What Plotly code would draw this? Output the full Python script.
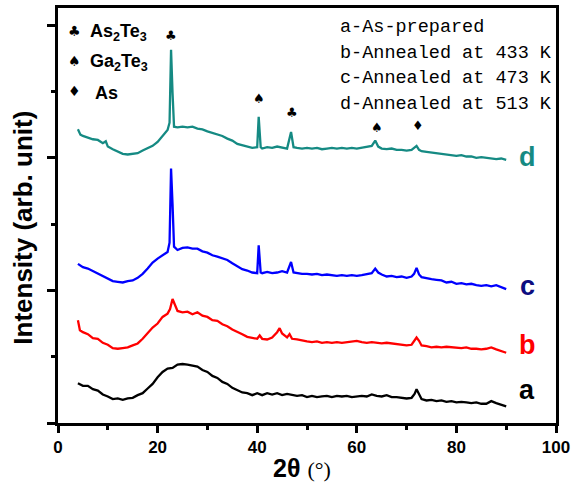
import plotly.graph_objects as go

# ---------------- data ----------------
x_a = [4,5,6,7,8,9,10,11,12,13,14,15,16,17,18,19,20,21,22,23,24,25,26,27,28,29,30,31,32,33,34,35,36,37,38,39,40,41,42,43,44,45,46,47,48,49,50,51,52,53,54,55,56,57,58,59,60,61,62,63,64,65,66,67,68,69,70,71,71.6,72,72.5,73,74,75,76,77,78,79,80,81,82,83,84,85,86,87,88,89,90]
y_a = [0.60,0.56,0.56,0.51,0.49,0.43,0.40,0.36,0.37,0.35,0.37,0.38,0.42,0.45,0.52,0.59,0.69,0.77,0.82,0.83,0.88,0.89,0.88,0.86,0.85,0.80,0.77,0.71,0.68,0.62,0.59,0.53,0.50,0.46,0.45,0.42,0.45,0.42,0.45,0.43,0.45,0.42,0.44,0.42,0.41,0.42,0.39,0.41,0.39,0.40,0.41,0.39,0.41,0.40,0.41,0.39,0.40,0.41,0.40,0.43,0.41,0.40,0.42,0.39,0.39,0.38,0.37,0.38,0.44,0.51,0.43,0.36,0.34,0.35,0.33,0.34,0.32,0.33,0.31,0.32,0.31,0.30,0.31,0.29,0.29,0.33,0.30,0.28,0.25]

x_b = [4,4.4,5,6,7,8,9,10,11,12,13,14,15,16,17,18,19,20,21,22,22.5,23,23.5,24,25,26,27,28,29,30,31,32,33,34,35,36,37,38,39,40,40.5,41,42,43,44,44.5,45,46,46.5,47,48,49,50,51,52,53,54,55,56,57,58,59,60,61,62,63,64,65,66,67,68,69,70,71,71.5,72,72.5,73,74,75,76,77,78,79,80,81,82,83,84,85,86,87,88,89,90]
y_b = [1.55,1.40,1.37,1.34,1.28,1.27,1.21,1.18,1.13,1.12,1.13,1.14,1.17,1.20,1.27,1.35,1.44,1.50,1.60,1.65,1.72,1.87,1.77,1.69,1.67,1.68,1.64,1.67,1.62,1.60,1.55,1.54,1.49,1.46,1.41,1.38,1.34,1.30,1.29,1.27,1.32,1.27,1.26,1.29,1.37,1.43,1.35,1.29,1.34,1.27,1.26,1.24,1.23,1.22,1.23,1.21,1.22,1.21,1.22,1.21,1.22,1.23,1.24,1.22,1.21,1.22,1.21,1.20,1.21,1.20,1.18,1.17,1.17,1.18,1.23,1.29,1.24,1.17,1.16,1.14,1.15,1.14,1.15,1.14,1.14,1.13,1.14,1.12,1.12,1.11,1.12,1.14,1.11,1.09,1.06]

x_c = [4,5,6,7,8,9,10,11,12,13,14,15,16,17,18,19,20,21,22,22.4,22.7,23.0,23.3,24,25,26,27,28,29,30,31,32,33,34,35,36,37,38,39,40,40.3,40.7,41,42,43,44,45,46,46.8,47.3,48,49,50,51,52,53,54,55,56,57,58,59,60,61,62,63,63.7,64.3,65,66,67,68,69,70,71,71.5,72,72.5,73,74,75,76,77,78,79,80,81,82,83,84,85,86,87,88,89,90]
y_c = [2.40,2.35,2.33,2.29,2.26,2.22,2.17,2.14,2.13,2.12,2.14,2.15,2.19,2.25,2.33,2.42,2.48,2.53,2.58,2.72,3.84,3.30,2.66,2.61,2.64,2.65,2.63,2.63,2.59,2.57,2.53,2.51,2.48,2.46,2.41,2.37,2.32,2.30,2.27,2.26,2.68,2.27,2.26,2.28,2.26,2.27,2.29,2.27,2.43,2.27,2.26,2.25,2.25,2.24,2.25,2.23,2.24,2.23,2.22,2.23,2.22,2.23,2.22,2.23,2.24,2.26,2.33,2.27,2.24,2.21,2.22,2.20,2.21,2.19,2.21,2.25,2.34,2.24,2.20,2.18,2.17,2.16,2.15,2.12,2.13,2.10,2.11,2.09,2.10,2.08,2.07,2.08,2.06,2.08,2.05,2.02]

x_d = [4,4.5,5,6,7,8,9,9.6,10,11,12,13,14,15,16,17,18,19,20,21,22,22.4,22.7,23.0,23.3,24,25,26,27,28,29,30,31,32,33,34,35,36,37,38,39,40,40.3,40.7,41,42,43,44,45,46,46.8,47.3,48,49,50,51,52,53,54,55,56,57,58,59,60,61,62,63,63.7,64.3,65,66,67,68,69,70,71,71.6,72,72.5,73,74,75,76,77,78,79,80,81,82,83,84,85,86,87,88,89,90]
y_d = [4.43,4.35,4.33,4.30,4.28,4.27,4.22,4.25,4.17,4.13,4.09,4.06,4.05,4.06,4.07,4.11,4.14,4.18,4.24,4.33,4.42,4.53,5.63,4.98,4.47,4.46,4.47,4.46,4.47,4.44,4.43,4.40,4.38,4.35,4.33,4.29,4.26,4.21,4.19,4.17,4.15,4.16,4.62,4.16,4.14,4.16,4.15,4.17,4.15,4.14,4.39,4.16,4.15,4.14,4.15,4.14,4.15,4.13,4.14,4.15,4.14,4.15,4.14,4.15,4.14,4.15,4.16,4.18,4.26,4.17,4.14,4.13,4.14,4.12,4.12,4.11,4.12,4.16,4.18,4.12,4.10,4.09,4.08,4.07,4.06,4.05,4.05,4.03,4.04,4.02,4.02,4.00,4.01,4.00,3.99,3.98,3.99,3.97]

series_names = ["a", "b", "c", "d"]
series_colors = ["#000000", "#ff0000", "#0000ff", "#158a83"]
label_colors = ["#000000", "#ff0000", "#0d0d80", "#158a83"]
label_y = [0.50, 1.17, 2.06, 4.02]
legend_lines = ["a-As-prepared", "b-Annealed at 433 K", "c-Annealed at 473 K", "d-Annealed at 513 K"]

# peak markers: (symbol, x, y)
peak_sym = ["♣", "♠", "♣", "♠", "♦"]
peak_x = [22.7, 40.3, 47.0, 64.0, 72.2]
peak_y = [5.85, 4.89, 4.68, 4.46, 4.49]

# ---------------- layout helpers ----------------
W, H = 575, 484
L, R, T, B = 58, 560, 5, 423


def px(x):
    return (x - L) / (R - L)


def py(y):
    return (B - y) / (B - T)


fig = go.Figure()
for xs, ys, n, c in zip([x_a, x_b, x_c, x_d], [y_a, y_b, y_c, y_d], series_names, series_colors):
    fig.add_trace(go.Scatter(x=xs, y=ys, mode="lines", name=n,
                             line=dict(color=c, width=2.3), showlegend=False))

ann = []
# curve labels
for n, c, yv in zip(series_names, label_colors, label_y):
    ann.append(dict(x=px(531), xref="paper", y=yv, yref="y", text="<b>%s</b>" % n,
                    showarrow=False, xanchor="center", yanchor="middle",
                    font=dict(family="Arial, Liberation Sans", size=27, color=c)))
# peak markers
for s, xv, yv in zip(peak_sym, peak_x, peak_y):
    ann.append(dict(x=xv, y=yv, xref="x", yref="y", text=s, showarrow=False,
                    xanchor="center", yanchor="middle",
                    font=dict(family="DejaVu Sans", size=13, color="#000000")))
# phase legend (top-left)
phase_sym = ["♣", "♠", "♦"]
phase_txt = ["As<sub>2</sub>Te<sub>3</sub>", "Ga<sub>2</sub>Te<sub>3</sub>", "As"]
phase_y = [28, 58, 89]
phase_x = [88, 88, 93]
for s, t, yy, xx in zip(phase_sym, phase_txt, phase_y, phase_x):
    ann.append(dict(x=px(75), y=py(yy), xref="paper", yref="paper", text=s, showarrow=False,
                    xanchor="center", yanchor="middle",
                    font=dict(family="DejaVu Sans", size=14, color="#000000")))
    ann.append(dict(x=px(xx), y=py(yy + 2), xref="paper", yref="paper", text="<b>%s</b>" % t,
                    showarrow=False, xanchor="left", yanchor="middle",
                    font=dict(family="Arial, Liberation Sans", size=18, color="#000000")))
# sample legend (top-right)
for i, t in enumerate(legend_lines):
    ann.append(dict(x=px(340), y=py(25 + 25.7 * i), xref="paper", yref="paper", text=t,
                    showarrow=False, xanchor="left", yanchor="middle",
                    font=dict(family="Liberation Mono", size=18.5, color="#000000")))
# axis titles
ann.append(dict(x=px(23), y=py(226), xref="paper", yref="paper",
                text="<b>Intensity (arb. unit)</b>", textangle=-90, showarrow=False,
                xanchor="center", yanchor="middle",
                font=dict(family="Arial, Liberation Sans", size=26, color="#000000")))
ann.append(dict(x=px(304), y=py(468), xref="paper", yref="paper",
                text="<b>2θ</b> <span style='font-family:Liberation Serif;font-size:22px'>(°)</span>",
                showarrow=False, xanchor="center", yanchor="middle",
                font=dict(family="Arial, Liberation Sans", size=25, color="#000000")))

fig.update_layout(
    width=W, height=H,
    margin=dict(l=L, r=W - R, t=T, b=H - B),
    plot_bgcolor="white", paper_bgcolor="white",
    annotations=ann,
    xaxis=dict(range=[0, 100], tick0=0, dtick=20, ticks="outside", ticklen=7, tickwidth=2.5,
               tickcolor="black", showline=True, linecolor="black", linewidth=2.5, mirror=True,
               showgrid=False, zeroline=False,
               tickfont=dict(family="Arial, Liberation Sans", size=17, color="black", weight="bold"),
               minor=dict(dtick=10, ticks="outside", ticklen=4, tickwidth=2.5, tickcolor="black", showgrid=False)),
    yaxis=dict(range=[0, 6.26], tick0=0, dtick=2, ticks="outside", ticklen=8, tickwidth=2.5,
               tickcolor="black", showline=True, linecolor="black", linewidth=2.5, mirror=True,
               showgrid=False, zeroline=False, showticklabels=False,
               minor=dict(dtick=1, ticks="outside", ticklen=4, tickwidth=2.5, tickcolor="black", showgrid=False)),
)

fig.write_html("out.html", config={"displayModeBar": False},
               post_script="document.body.style.margin='0';document.body.style.overflow='hidden';")
